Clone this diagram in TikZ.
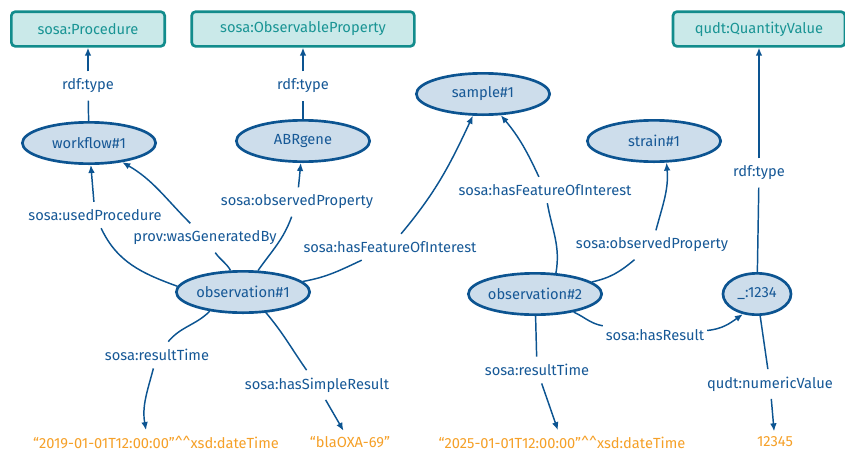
\documentclass[tikz,border=0pt]{standalone}
\usepackage{fontspec}
\setmainfont{Fira Sans}
\usetikzlibrary{arrows.meta,shapes.geometric,calc}
\definecolor{resline}{RGB}{12,84,145}
\definecolor{resfill}{RGB}{205,221,235}
\definecolor{restext}{RGB}{22,88,150}
\definecolor{clsline}{RGB}{18,140,140}
\definecolor{clsfill}{RGB}{202,233,233}
\definecolor{clstext}{RGB}{25,148,148}
\definecolor{littext}{RGB}{245,160,40}

\begin{document}
\begin{tikzpicture}[x=0.75pt,y=0.75pt,
  font=\fontsize{11}{13}\selectfont,
  res/.style={ellipse,draw=resline,line width=2pt,fill=resfill,text=restext,
    minimum width=100pt,minimum height=31pt,inner sep=0pt},
  cls/.style={rectangle,rounded corners=3pt,draw=clsline,line width=2pt,
    fill=clsfill,text=clstext,minimum height=26pt},
  lit/.style={text=littext,inner xsep=2pt,inner ysep=4pt},
  prop/.style={text=restext,inner xsep=2pt,inner ysep=5.5pt},
  link/.style={draw=resline,line width=1.1pt},
  arr/.style={link,-{Latex[length=6pt,width=5pt]}}]
% ==========================================
\useasboundingbox (0,0) rectangle (845,-450);
%
\node[cls,minimum width=115pt] (procedure) at (88,-29) {sosa:Procedure};
\node[cls,minimum width=167pt] (obsprop) at (303,-29) {sosa:ObservableProperty};
\node[cls,minimum width=129pt] (quantval) at (759,-29) {qudt:QuantityValue};
%
\node[res] (workflow) at (89,-143) {workflow\#1};
\node[res] (abrgene) at (303,-141) {ABRgene};
\node[res] (sample) at (483,-94) {sample\#1};
\node[res] (strain) at (654,-141) {strain\#1};
\node[res] (obsone) at (243,-292) {observation\#1};
\node[res] (obstwo) at (535,-294) {observation\#2};
\node[res,minimum width=51pt] (blank) at (757,-294) {\_:1234};
%
\node[lit] (timeone) at (156,-442) {“2019-01-01T12:00:00”\textasciicircum\textasciicircum xsd:dateTime};
\node[lit] (gene) at (350,-442) {“blaOXA-69”};
\node[lit] (timetwo) at (562,-442) {“2025-01-01T12:00:00”\textasciicircum\textasciicircum xsd:dateTime};
\node[lit] (value) at (775,-442) {12345};
% =============================================
\node[prop] (typeone) at (88,-86) {rdf:type};
\node[prop] (typetwo) at (303,-86) {rdf:type};
\node[prop] (typethree) at (759,-173) {rdf:type};
\node[prop] (usedproc) at (95,-215) {sosa:usedProcedure};
\node[prop] (wasgen) at (205,-238) {prov:wasGeneratedBy};
\node[prop] (propone) at (297,-202) {sosa:observedProperty};
\node[prop] (foione) at (390,-247) {sosa:hasFeatureOfInterest};
\node[prop] (foitwo) at (545,-190) {sosa:hasFeatureOfInterest};
\node[prop] (proptwo) at (652,-245) {sosa:observedProperty};
\node[prop] (result) at (655,-335) {sosa:hasResult};
\node[prop] (timeA) at (157,-355) {sosa:resultTime};
\node[prop] (timeB) at (537,-370) {sosa:resultTime};
\node[prop] (simple) at (317,-385) {sosa:hasSimpleResult};
\node[prop] (numval) at (770,-384) {qudt:numericValue};
% =============================================
\draw[link] (workflow) -- (typeone);
\draw[arr] (typeone) -- (procedure);%Arrow.
\draw[link] (abrgene) -- (typetwo);
\draw[arr] (typetwo) -- (obsprop);%Arrow.
\draw[link] (blank) -- (typethree);
\draw[arr] (typethree) -- (quantval);%Arrow.
%
\draw[link] (obsone.175) to[out=160,in=-65] (usedproc);
\draw[arr] (usedproc) -- (workflow);
\draw[link] (obsone) to[out=120,in=-55] (wasgen);
\draw[arr] (wasgen) to[out=135,in=-30] (workflow);
\draw[link] (obsone) to[out=55,in=-110] (propone);
\draw[arr] (propone) -- (abrgene);
\draw[link] (obsone) to[out=10,in=205] (foione);
\draw[arr] (foione) to[out=50,in=-115] (sample);
\draw[link] (obsone.-150) to[out=-135,in=50] (timeA);
\draw[arr] (timeA) to[out=-105,in=100] ($(timeone.north)+(-10,0)$);
\draw[link] (obsone.-42) to[out=-50,in=125] (simple);
\draw[arr] (simple) -- (gene);
%
\draw[link] (obstwo.45) to[out=80,in=-80] (foitwo);
\draw[arr] (foitwo) to[out=115,in=-50] (sample);
\draw[link] (obstwo) to[out=12,in=220] (proptwo);
\draw[arr] (proptwo) to[out=75,in=-85] (strain.-60);
\draw[link] (obstwo) to[out=-25,in=170] (result);
\draw[arr] (result) to[out=5,in=215] (blank.235);
\draw[link] (obstwo) -- (timeB);
\draw[arr] (timeB) -- (timetwo);
%
\draw[link] (blank) -- (numval);
\draw[arr] (numval) -- (value);
% =============================================
\end{tikzpicture}
\end{document}
